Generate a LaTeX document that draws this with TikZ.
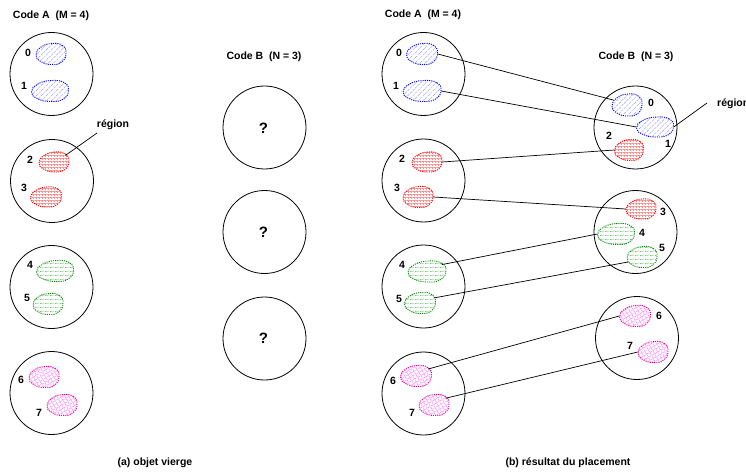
\documentclass[tikz,border=0pt]{standalone}
\usepackage{fontspec}
\setmainfont{Liberation Sans}
\usetikzlibrary{patterns,patterns.meta,shapes.geometric}
\pgfdeclarepatternformonly{zigzagp}{\pgfqpoint{-0.5pt}{-0.5pt}}{\pgfqpoint{5.5pt}{4.5pt}}{\pgfqpoint{5pt}{4pt}}{%
  \pgfsetlinewidth{0.4pt}%
  \pgfpathmoveto{\pgfqpoint{0pt}{1pt}}%
  \pgfpathlineto{\pgfqpoint{1.25pt}{2.2pt}}%
  \pgfpathlineto{\pgfqpoint{2.5pt}{1pt}}%
  \pgfpathlineto{\pgfqpoint{3.75pt}{2.2pt}}%
  \pgfpathlineto{\pgfqpoint{5pt}{1pt}}%
  \pgfusepath{stroke}}
\tikzset{
  disc/.style={circle, draw, line width=0.8pt, minimum size=83pt, inner sep=0pt},
  lbl/.style={font=\fontsize{10.5}{12}\selectfont\bfseries, inner sep=0pt},
  qlbl/.style={font=\fontsize{15}{17}\selectfont\bfseries, inner sep=0pt},
  conn/.style={line width=0.7pt},
  blobanchor/.style={ellipse, inner sep=0pt, draw=none},
  blobline/.style={line width=0.9pt, dash pattern=on 1.1pt off 1.1pt},
  bblue/.style={blobline, draw=blue, pattern={Lines[angle=45, distance=3.6pt, line width=0.45pt]}, pattern color=blue!45},
  bred/.style={blobline, draw=red, pattern={Hatch[angle=0, distance=3pt, line width=0.4pt]}, pattern color=red!45},
  bgreen/.style={blobline, draw=green!55!black, pattern=zigzagp, pattern color=green!50!black!60},
  bmag/.style={blobline, draw=magenta, pattern={Hatch[angle=30, distance=3.5pt, line width=0.45pt]}, pattern color=magenta!55},
}
\newcommand\blob[6]{%
  \path[#6] plot[smooth cycle, tension=0.85] coordinates {
    ({#2+0.5*#4},{#3-0.04*#5}) ({#2+0.38*#4},{#3-0.4*#5}) ({#2+0.04*#4},{#3-0.5*#5})
    ({#2-0.33*#4},{#3-0.33*#5}) ({#2-0.5*#4},{#3+0.04*#5}) ({#2-0.34*#4},{#3+0.36*#5})
    ({#2+0.02*#4},{#3+0.5*#5}) ({#2+0.36*#4},{#3+0.38*#5})};
  \node[blobanchor, minimum width=#4pt, minimum height=#5pt] (#1) at (#2,#3) {};
}
\begin{document}
\begin{tikzpicture}[x=1pt, y=-1pt]
\useasboundingbox (0,0) rectangle (746,473);
% ---------- (a) left ----------
\node[lbl] (codeAl) at (51,16) {Code A\ \ (M = 4)};
\node[disc] (lc1) at (51.5,74) {};
\node[disc] (lc2) at (52,181) {};
\node[disc] (lc3) at (51.5,287) {};
\node[disc] (lc4) at (51.5,393) {};
\blob{la0}{51}{54}{30}{21}{bblue}
\blob{la1}{50}{91}{37}{21}{bblue}
\blob{la2}{54}{162}{30}{20}{bred}
\blob{la3}{46}{197}{31}{20}{bred}
\blob{la4}{55}{271}{37}{21}{bgreen}
\blob{la5}{48}{304}{30}{21}{bgreen}
\blob{la6}{44}{377}{30}{21}{bmag}
\blob{la7}{62}{405}{30}{21}{bmag}
\node[lbl] (tla0) at (28,53) {0};
\node[lbl] (tla1) at (24,86) {1};
\node[lbl] (tla2) at (30,160) {2};
\node[lbl] (tla3) at (24,188) {3};
\node[lbl] (tla4) at (30,265) {4};
\node[lbl] (tla5) at (27,298) {5};
\node[lbl] (tla6) at (21,380) {6};
\node[lbl] (tla7) at (39,413) {7};
\node[lbl] (regL) at (113,125) {région};
\coordinate (regLs) at (97,133);
\draw[conn] (regLs) -- (la2.30);
% ---------- middle ----------
\node[lbl] (codeBm) at (264,57) {Code B\ \ (N = 3)};
\node[disc] (mc1) at (264.5,127.5) {};
\node[disc] (mc2) at (264.5,232) {};
\node[disc] (mc3) at (264.5,338.5) {};
\node[qlbl] (q1) at (263.5,128) {?};
\node[qlbl] (q2) at (263.5,232) {?};
\node[qlbl] (q3) at (263.5,338.5) {?};
\node[lbl] (capa) at (155,463) {(a) objet vierge};
% ---------- (b) right ----------
\node[lbl] (codeAr) at (423,15) {Code A\ \ (M = 4)};
\node[lbl] (codeBr) at (636,57) {Code B\ \ (N = 3)};
\node[disc] (rc1) at (423.5,74) {};
\node[disc] (rc2) at (423.5,180.5) {};
\node[disc] (rc3) at (423.5,286.5) {};
\node[disc] (rc4) at (423.5,393.5) {};
\node[disc] (bc1) at (635.5,127.5) {};
\node[disc] (bc2) at (635.5,232) {};
\node[disc] (bc3) at (637,338) {};
\blob{ra0}{422}{54}{31}{21}{bblue}
\blob{ra1}{422}{91}{38}{21}{bblue}
\blob{ra2}{427}{162}{30}{20}{bred}
\blob{ra3}{418}{197}{30}{21}{bred}
\blob{ra4}{427}{271.5}{38}{21}{bgreen}
\blob{ra5}{420}{303}{31}{21}{bgreen}
\blob{ra6}{416}{376}{31}{21}{bmag}
\blob{ra7}{434}{405}{30}{21}{bmag}
\node[lbl] (tra0) at (399,53) {0};
\node[lbl] (tra1) at (396,86) {1};
\node[lbl] (tra2) at (402,159) {2};
\node[lbl] (tra3) at (397,188) {3};
\node[lbl] (tra4) at (402,265) {4};
\node[lbl] (tra5) at (399,299) {5};
\node[lbl] (tra6) at (393,381) {6};
\node[lbl] (tra7) at (412,413) {7};
\blob{rb0}{627}{105}{30}{22}{bblue}
\blob{rb1}{655}{127}{37}{20}{bblue}
\blob{rb2}{629}{150}{29}{21}{bred}
\blob{rb3}{641}{209}{30}{20}{bred}
\blob{rb4}{616}{234}{37}{21}{bgreen}
\blob{rb5}{642}{257}{30}{21}{bgreen}
\blob{rb6}{635}{316}{31}{21}{bmag}
\blob{rb7}{653}{352}{30}{21}{bmag}
\node[lbl] (trb0) at (651,103) {0};
\node[lbl] (trb1) at (668,144) {1};
\node[lbl] (trb2) at (609,136) {2};
\node[lbl] (trb3) at (663,212) {3};
\node[lbl] (trb4) at (642,233) {4};
\node[lbl] (trb5) at (662,248) {5};
\node[lbl] (trb6) at (659,316) {6};
\node[lbl] (trb7) at (630,346) {7};
\node[lbl, anchor=west] (regR) at (717,104) {région};
\coordinate (regRs) at (707,103);
\draw[conn] (regRs) -- (rb1.east);
\draw[conn] (ra0.east) -- (rb0.160);
\draw[conn] (ra1.east) -- (rb1.west);
\draw[conn] (ra2.east) -- (rb2.west);
\draw[conn] (ra3.east) -- (rb3.west);
\draw[conn] (ra4.25) -- (rb4.west);
\draw[conn] (ra5.20) -- (rb5.200);
\draw[conn] (ra6.30) -- (rb6.west);
\draw[conn] (ra7.30) -- (rb7.west);
\node[lbl] (capb) at (568,463) {(b) résultat du placement};
\end{tikzpicture}
\end{document}
